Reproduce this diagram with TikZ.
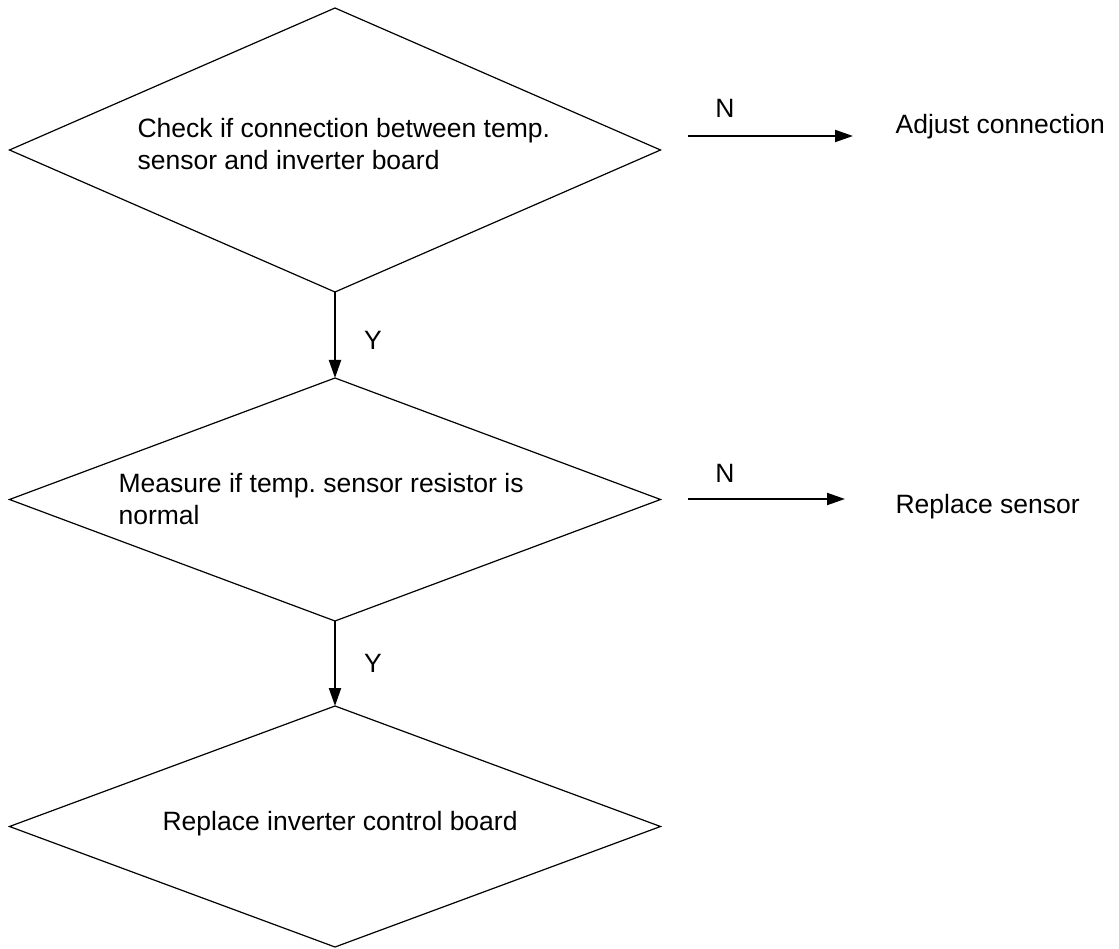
\documentclass[tikz,border=0pt]{standalone}
\usepackage{fontspec}
\setmainfont{Liberation Sans}
\usetikzlibrary{shapes.geometric,arrows.meta}
\frenchspacing

\begin{document}
\begin{tikzpicture}[x=1pt,y=-1pt,line width=1.2pt,
    decision/.style={draw,diamond,inner sep=0pt,outer sep=0pt,minimum width=651pt},
    txt/.style={inner sep=0pt,font=\fontsize{26.5}{32}\selectfont,align=left},
    flow/.style={line width=2pt,-{Triangle[length=18pt,width=12pt]}}]

        \useasboundingbox (0,0) rectangle (1119,949);

        % ------------------------------------------------ check connection
        \node[decision,minimum height=284pt] (chk) at (335,150) {};
        \node[txt,anchor=base west] (chktxt) at (137,170)
            {Check if connection between temp.\\sensor and inverter board};

        \coordinate (chkno) at (688,136);
        \coordinate (adjend) at (853,136);
        \draw[flow] (chkno) -- (adjend);
        \node[txt,anchor=base] (chkn) at (725,118) {N};
        \node[txt,anchor=base west] (adj) at (895,134) {Adjust connection};

        % ------------------------------------------------ measure resistor
        \node[decision,minimum height=243pt] (meas) at (335,499.5) {};
        \node[txt,anchor=base west] (meastxt) at (118,524)
            {Measure if temp. sensor resistor is\\normal};

        \draw[flow] (chk.south) -- (meas.north);
        \node[txt,anchor=base] (chky) at (373,350) {Y};

        \coordinate (measno) at (688,499);
        \coordinate (repend) at (845,499);
        \draw[flow] (measno) -- (repend);
        \node[txt,anchor=base] (measn) at (725,482) {N};
        \node[txt,anchor=base west] (repsens) at (895,513) {Replace sensor};

        % ------------------------------------------------ replace board
        \node[decision,minimum height=241pt] (board) at (335,826.5) {};
        \node[txt,anchor=base west] (boardtxt) at (162,830) {Replace inverter control board};

        \draw[flow] (meas.south) -- (board.north);
        \node[txt,anchor=base] (measy) at (373,672) {Y};

\end{tikzpicture}
\end{document}
